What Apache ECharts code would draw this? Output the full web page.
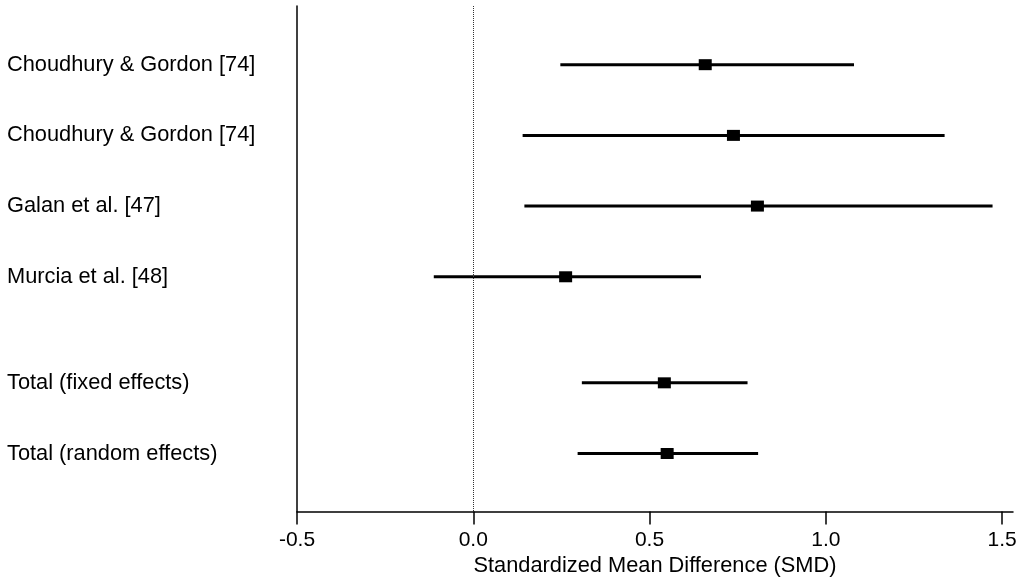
<!DOCTYPE html>
<html>
<head>
<meta charset="utf-8">
<script src="https://cdn.jsdelivr.net/npm/echarts@6/dist/echarts.min.js"></script>
<style>
  html, body { margin: 0; padding: 0; background: #fff; }
  #main { width: 1024px; height: 578px; }
</style>
</head>
<body>
<div id="main"></div>
<script>
// study rows, top to bottom
const studies = [
  'Choudhury & Gordon [74]',
  'Choudhury & Gordon [74]',
  'Galan et al. [47]',
  'Murcia et al. [48]',
  'Total (fixed effects)',
  'Total (random effects)'
];
// row position on the y scale (gap before the totals)
const rowPos = [0, 1, 2, 3, 4.5, 5.5];
// standardized mean difference and 95% CI
const smd = [0.658, 0.738, 0.806, 0.262, 0.542, 0.550];
const ciLow = [0.247, 0.140, 0.145, -0.112, 0.308, 0.296];
const ciHigh = [1.080, 1.337, 1.473, 0.646, 0.778, 0.808];
// x axis ticks
const xTicks = [-0.5, 0, 0.5, 1.0, 1.5];
const xTitle = 'Standardized Mean Difference (SMD)';

const font = 'Liberation Sans, Arial, Helvetica, sans-serif';

const chart = echarts.init(document.getElementById('main'), null, { renderer: 'canvas' });

const ciData = studies.map((s, i) => [ciLow[i], ciHigh[i], rowPos[i]]);
const pointData = studies.map((s, i) => [smd[i], rowPos[i]]);

chart.setOption({
  animation: false,
  backgroundColor: '#fff',
  grid: { left: 297, right: 11, top: 6, bottom: 66.5, outerBoundsMode: 'none', containLabel: false },
  xAxis: {
    type: 'value',
    min: -0.5,
    max: 1.531,
    interval: 0.5,
    name: xTitle,
    nameLocation: 'middle',
    nameGap: 43,
    nameTextStyle: { fontFamily: font, fontSize: 21.8, color: '#000' },
    axisLine: { show: true, onZero: false, lineStyle: { color: '#000', width: 1.5 } },
    axisTick: { show: true, length: 13, customValues: xTicks, lineStyle: { color: '#000', width: 1.5 } },
    axisLabel: {
      customValues: xTicks,
      margin: 18,
      fontFamily: font,
      fontSize: 21,
      color: '#000',
      formatter: v => v.toFixed(1)
    },
    splitLine: { show: false }
  },
  yAxis: {
    type: 'value',
    inverse: true,
    min: -0.83,
    max: 6.32,
    axisLine: { show: true, onZero: false, lineStyle: { color: '#000', width: 1.5 } },
    axisTick: { show: false },
    axisLabel: {
      customValues: rowPos,
      margin: 290,
      align: 'left',
      fontFamily: font,
      fontSize: 21.8,
      color: '#000',
      formatter: v => {
        const i = rowPos.indexOf(v);
        return i >= 0 ? studies[i] : '';
      }
    },
    splitLine: { show: false }
  },
  series: [
    {
      type: 'custom',
      data: ciData,
      encode: { x: [0, 1], y: 2 },
      renderItem: (params, api) => {
        const p1 = api.coord([api.value(0), api.value(2)]);
        const p2 = api.coord([api.value(1), api.value(2)]);
        return {
          type: 'line',
          shape: { x1: p1[0], y1: p1[1], x2: p2[0], y2: p2[1] },
          style: { stroke: '#000', lineWidth: 3 }
        };
      },
      markLine: {
        silent: true,
        symbol: 'none',
        label: { show: false },
        lineStyle: { color: '#333', width: 1, type: [1, 1] },
        data: [{ xAxis: 0 }]
      },
      z: 2
    },
    {
      type: 'scatter',
      data: pointData,
      symbol: 'rect',
      symbolSize: [13, 11],
      itemStyle: { color: '#000', opacity: 1 },
      z: 3
    }
  ]
});
</script>
</body>
</html>
